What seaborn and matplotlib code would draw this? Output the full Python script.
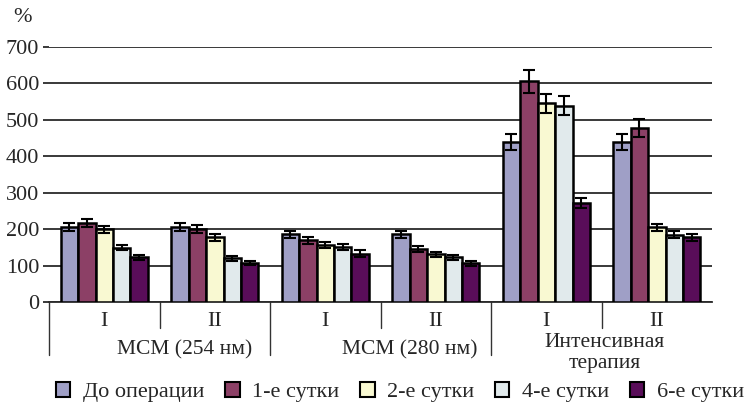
import matplotlib
matplotlib.use("Agg")
import matplotlib.pyplot as plt
import seaborn as sns
import pandas as pd
import numpy as np

# ---- data ----
groups = ["МСМ254 I", "МСМ254 II", "МСМ280 I", "МСМ280 II", "ИТ I", "ИТ II"]
sub_labels = ["I", "II", "I", "II", "I", "II"]
series = ["До операции", "1-е сутки", "2-е сутки", "4-е сутки", "6-е сутки"]
do_oper = [206, 206, 186, 186, 438, 438]
day1 = [217, 200, 169, 146, 606, 478]
day2 = [200, 178, 156, 131, 545, 205]
day4 = [149, 120, 151, 123, 539, 185]
day6 = [123, 107, 133, 106, 272, 178]
err_do = [12, 12, 10, 10, 22, 22]
err_1 = [11, 11, 10, 8, 32, 24]
err_2 = [10, 10, 8, 7, 27, 9]
err_4 = [7, 7, 7, 7, 27, 10]
err_6 = [7, 5, 9, 6, 13, 10]
main_labels = ["МСМ (254 нм)", "МСМ (280 нм)", "Интенсивная\nтерапия"]
colors = ["#9999CC", "#993366", "#FFFFCC", "#DFEBEE", "#660066"]

values = [do_oper, day1, day2, day4, day6]
errors = [err_do, err_1, err_2, err_4, err_6]

rows = []
for s, vals, errs in zip(series, values, errors):
    for g, v, e in zip(groups, vals, errs):
        rows.append({"group": g, "series": s, "value": v, "err": e})
df = pd.DataFrame(rows)

sns.set_style("white")
plt.rcParams["font.family"] = ["Liberation Serif", "DejaVu Serif"]

fig = plt.figure(figsize=(7.48, 4.03), dpi=100)
ax = fig.add_axes([0.0655, 0.2506, 0.8865, 0.6328])

sns.barplot(data=df, x="group", y="value", hue="series", order=groups,
            hue_order=series, palette=colors, width=0.79, errorbar=None,
            edgecolor="black", linewidth=1.8, ax=ax, legend=True, zorder=3)

# error bars from bar patches
bars = [p for p in ax.patches if p.get_height() > 0][:len(df)]
for p, (_, r) in zip(bars, df.iterrows()):
    cx = p.get_x() + p.get_width() / 2
    ax.errorbar(cx, p.get_height(), yerr=r["err"], fmt="none", ecolor="black",
                elinewidth=1.5, capsize=4, capthick=1.5, zorder=5)

ax.set_ylim(0, 700)
ax.set_xlim(-0.5, 5.5)
ax.set_yticks(range(0, 701, 100))
ax.yaxis.grid(True, color="#2a2a2a", linewidth=1.3, zorder=0)
ax.set_axisbelow(True)
for s in ["top", "right"]:
    ax.spines[s].set_visible(False)
ax.spines["left"].set_visible(False)
ax.spines["bottom"].set_color("#2a2a2a")
ax.spines["bottom"].set_linewidth(1.3)
ax.tick_params(axis="y", left=True, length=4, width=1.3, color="#2a2a2a",
               labelsize=16, pad=3)
ax.set_xticks([])
ax.set_xlabel("")
ax.set_ylabel("")

tr = ax.get_xaxis_transform()
# separators
for x in [0.5, 2.5, 4.5]:
    ax.plot([x, x], [0, -0.102], transform=tr, color="#333333", lw=1.0, clip_on=False)
for x in [-0.5, 1.5, 3.5]:
    ax.plot([x, x], [0, -0.208], transform=tr, color="#333333", lw=1.0, clip_on=False)

for i, lab in enumerate(sub_labels):
    ax.text(i, -0.078, lab, transform=tr, ha="center", va="center", fontsize=16)

ax.text(0.73, -0.188, main_labels[0], transform=tr, ha="center", va="center", fontsize=15.5)
ax.text(2.76, -0.188, main_labels[1], transform=tr, ha="center", va="center", fontsize=15.5)
ax.text(4.53, -0.20, main_labels[2], transform=tr, ha="center", va="center",
        fontsize=15.5, linespacing=1.2)

fig.text(22 / 748, 1 - 17 / 403, "%", ha="center", va="center", fontsize=16)

ax.legend().remove()
handles, labels = ax.get_legend_handles_labels()
leg = fig.legend(handles, labels, loc="center left",
                 bbox_to_anchor=(56 / 748, 1 - 392 / 403),
                 ncol=5, frameon=False, fontsize=16, handlelength=0.65,
                 handleheight=0.65, handletextpad=0.55, columnspacing=0.95,
                 borderpad=0, borderaxespad=0)
for h in leg.legend_handles:
    h.set_edgecolor("black")
    h.set_linewidth(1.5)

fig.savefig("out.png", dpi=100)
